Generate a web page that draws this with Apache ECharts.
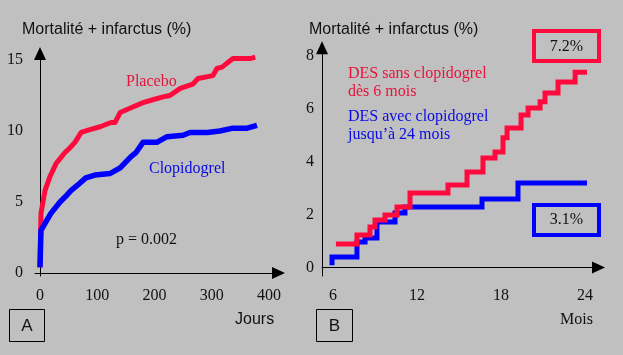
<!DOCTYPE html>
<html>
<head>
<meta charset="utf-8">
<script src="https://cdn.jsdelivr.net/npm/echarts@6/dist/echarts.min.js"></script>
<style>
html,body{margin:0;padding:0;background:#c0c0c0;}
#c{width:623px;height:355px;}
</style>
</head>
<body>
<div id="c"></div>
<script>
// Panel A (days)
const daysPlacebo = [0, 1.7, 8.7, 17.5, 28, 44, 52, 61, 72, 87, 105, 124, 131, 140, 157, 180, 197, 215, 227, 245, 267, 276, 302, 309, 318, 337, 367, 376];
const placebo = [0.4, 4.2, 5.8, 6.8, 7.7, 8.5, 8.8, 9.2, 9.9, 10.1, 10.3, 10.6, 10.6, 11.3, 11.6, 12.0, 12.2, 12.4, 12.5, 13.0, 13.3, 13.7, 13.9, 14.4, 14.5, 15.1, 15.1, 15.2];
const daysClop = [0, 1.7, 8.7, 19, 35, 45, 54, 66, 80, 96, 122, 140, 159, 168, 180, 204, 222, 250, 262, 292, 314, 337, 362, 379];
const clopidogrel = [0.4, 3.0, 3.5, 4.2, 5.0, 5.4, 5.8, 6.2, 6.7, 6.9, 7.0, 7.4, 8.2, 8.5, 9.2, 9.2, 9.6, 9.7, 9.9, 9.9, 10.0, 10.2, 10.2, 10.4];
const ticksA_x = [0, 100, 200, 300, 400];
const ticksA_y = [0, 5, 10, 15];

// Panel B (months) - step curves: month at which each level starts
const sansMonths = [6.21, 7.71, 8.64, 9.0, 9.71, 10.57, 11.5, 14.21, 15.57, 16.71, 17.57, 18.14, 18.43, 19.43, 19.93, 20.79, 21.14, 22.07, 23.29];
const sansVals = [0.89, 1.23, 1.53, 1.79, 1.98, 2.28, 2.81, 3.11, 3.60, 4.13, 4.36, 4.89, 5.26, 5.75, 6.02, 6.25, 6.58, 7.00, 7.36];
const sansEnd = 24.14;
const avecMonths = [5.93, 5.93, 7.71, 8.29, 9.14, 10.43, 11.14, 16.64, 19.21];
const avecVals = [0.09, 0.40, 0.96, 1.11, 1.72, 2.06, 2.28, 2.58, 3.19];
const avecEnd = 24.14;
const ticksB_x = [6, 12, 18, 24];
const ticksB_y = [0, 2, 4, 6, 8];

function zip(xs, ys){ return xs.map((x,i)=>[x, ys[i]]); }
function steps(xs, ys, end){
  const pts = [[xs[0], ys[0]]];
  for (let i=1;i<xs.length;i++){ pts.push([xs[i], ys[i-1]]); pts.push([xs[i], ys[i]]); }
  pts.push([end, ys[ys.length-1]]);
  return pts;
}

const RED = '#ff0a3c', BLUE = '#0000ff';
const REDTXT = '#e6143c', BLUETXT = '#0a0ae6';
const SERIF = '"Liberation Serif", "Times New Roman", serif';
const SANS = '"Liberation Sans", Arial, sans-serif';

const axisLine = () => ({show:true, symbol:['none','triangle'], symbolSize:[12,13], lineStyle:{color:'#000', width:1}});
const lbl = (vals, margin) => ({show:true, customValues: vals, color:'#111', fontFamily: SERIF, fontSize:16, margin: margin});

const chart = echarts.init(document.getElementById('c'), null, {renderer:'canvas'});
function txt(t, x, y, font, fill, align){
  return {type:'text', x:x, y:y, style:{text:t, font:font, fill:fill, textAlign: align||'left', textVerticalAlign:'middle'}};
}
chart.setOption({
  backgroundColor:'#c0c0c0',
  animation:false,
  grid:[
    {left:35, top:53.5, width:243.5, height:222.5},
    {left:322, top:47.7, width:276.5, height:228.3}
  ],
  xAxis:[
    {type:'value', gridIndex:0, min:-8.73, max:416.6, axisLine:axisLine(), axisTick:{show:false}, splitLine:{show:false}, axisLabel:lbl(ticksA_x, 12)},
    {type:'value', gridIndex:1, min:5.214, max:24.96, axisLine:axisLine(), axisTick:{show:false}, splitLine:{show:false}, axisLabel:lbl(ticksB_x, 12)}
  ],
  yAxis:[
    {type:'value', gridIndex:0, min:-0.211, max:15.458, axisLine:axisLine(), axisTick:{show:false}, splitLine:{show:false}, axisLabel:lbl(ticksA_y, 12)},
    {type:'value', gridIndex:1, min:-0.32, max:8.29, axisLine:axisLine(), axisTick:{show:false}, splitLine:{show:false}, axisLabel:lbl(ticksB_y, 8)}
  ],
  series:[
    {type:'line', xAxisIndex:0, yAxisIndex:0, data: zip(daysPlacebo, placebo), showSymbol:false, lineStyle:{color:RED, width:5, join:'round', cap:'butt'}},
    {type:'line', xAxisIndex:0, yAxisIndex:0, data: zip(daysClop, clopidogrel), showSymbol:false, lineStyle:{color:BLUE, width:5.5, join:'round', cap:'butt'}},
    {type:'line', xAxisIndex:1, yAxisIndex:1, data: steps(avecMonths, avecVals, avecEnd), showSymbol:false, lineStyle:{color:BLUE, width:5, join:'miter', cap:'butt'}},
    {type:'line', xAxisIndex:1, yAxisIndex:1, data: steps(sansMonths, sansVals, sansEnd), showSymbol:false, lineStyle:{color:RED, width:5, join:'miter', cap:'butt'}}
  ],
  graphic:[
    txt('Mortalité + infarctus (%)', 22, 30, '16px '+SANS, '#111'),
    txt('Mortalité + infarctus (%)', 309, 30, '16px '+SANS, '#111'),
    txt('Placebo', 126, 82, '16px '+SERIF, REDTXT),
    txt('Clopidogrel', 149, 169, '16px '+SERIF, BLUETXT),
    txt('p = 0.002', 116, 240, '16px '+SERIF, '#111'),
    txt('Jours', 235, 320, '16px '+SANS, '#111'),
    txt('Mois', 560, 320, '16px '+SERIF, '#111'),
    txt('DES sans clopidogrel', 348, 74, '16px '+SERIF, REDTXT),
    txt('dès 6 mois', 348, 92, '16px '+SERIF, REDTXT),
    txt('DES avec clopidogrel', 348, 117, '16px '+SERIF, BLUETXT),
    txt('jusqu’à 24 mois', 348, 135, '16px '+SERIF, BLUETXT),
    {type:'rect', shape:{x:534, y:31, width:65, height:30}, style:{fill:'none', stroke:RED, lineWidth:4}},
    txt('7.2%', 566.5, 47, '16px '+SERIF, '#111', 'center'),
    {type:'rect', shape:{x:534, y:205, width:65, height:30}, style:{fill:'none', stroke:BLUE, lineWidth:4}},
    txt('3.1%', 566.5, 220, '16px '+SERIF, '#111', 'center'),
    {type:'rect', shape:{x:9.5, y:309.5, width:35, height:32}, style:{fill:'none', stroke:'#000', lineWidth:1}},
    txt('A', 27, 326, '17px '+SANS, '#111', 'center'),
    {type:'rect', shape:{x:316.5, y:309.5, width:36, height:32}, style:{fill:'none', stroke:'#000', lineWidth:1}},
    txt('B', 334.5, 326, '17px '+SANS, '#111', 'center')
  ]
});
</script>
</body>
</html>
